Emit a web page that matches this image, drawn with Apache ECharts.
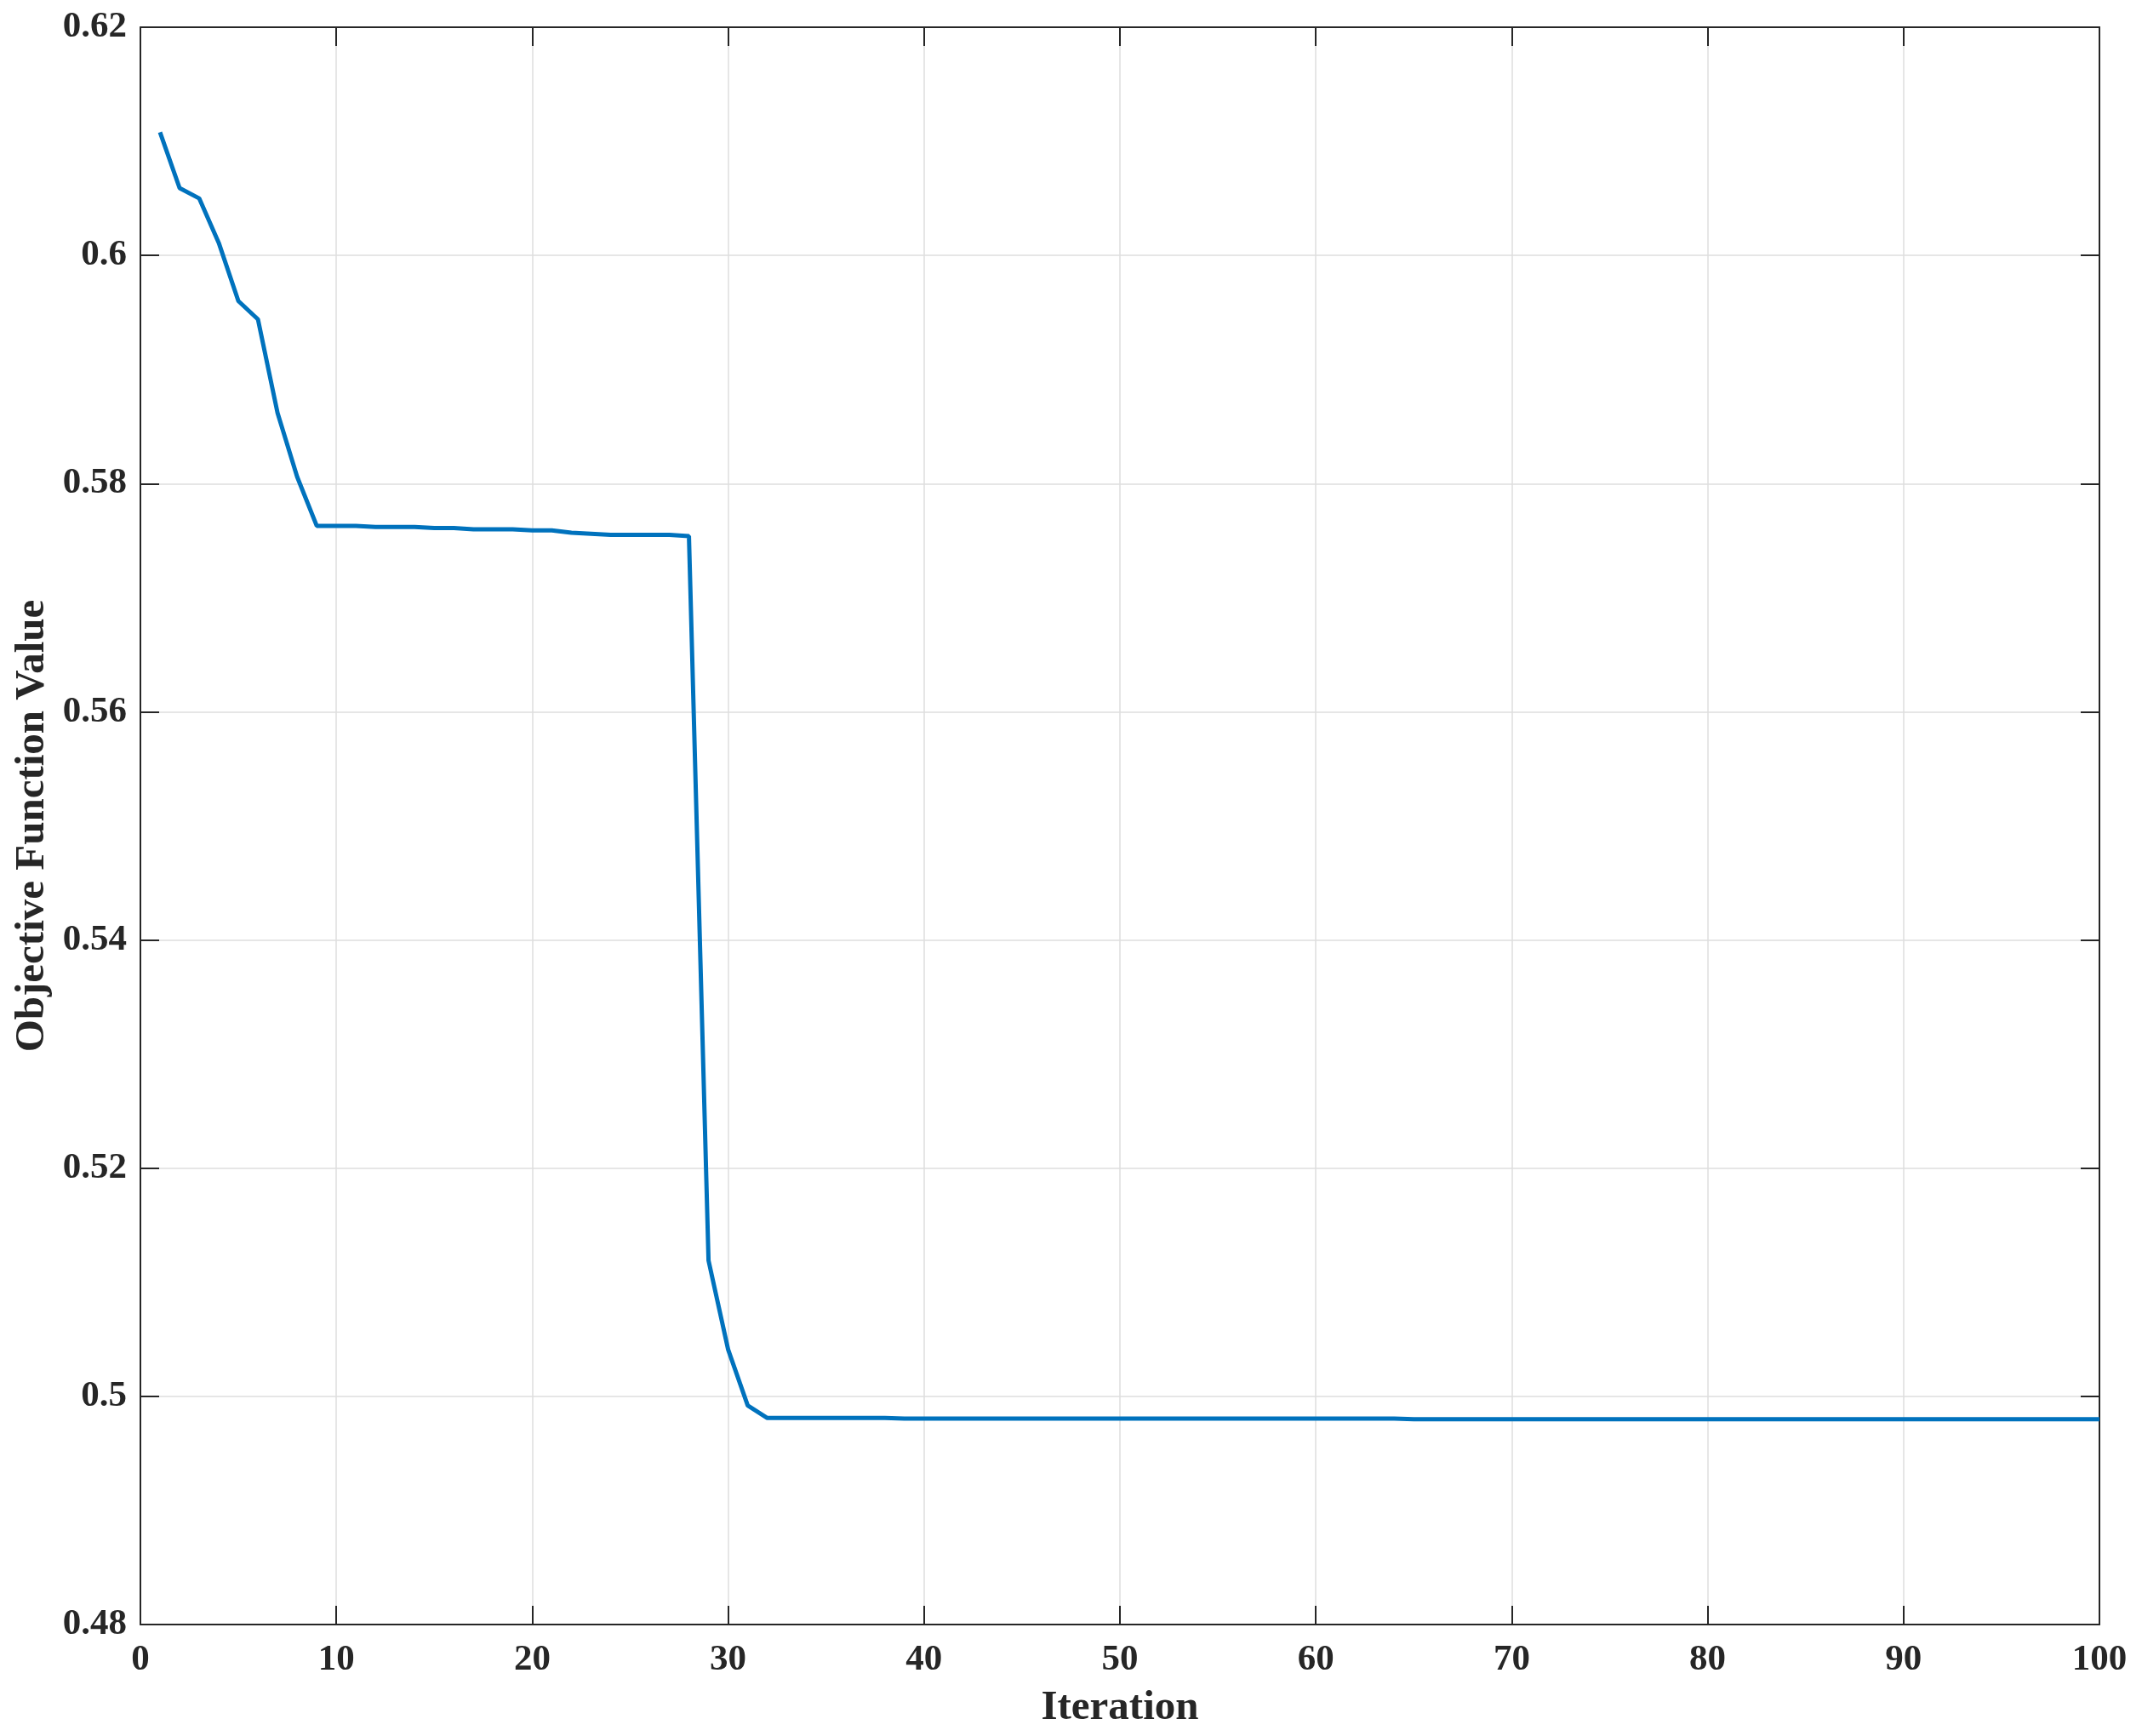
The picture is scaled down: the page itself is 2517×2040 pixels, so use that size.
<!DOCTYPE html>
<html>
<head>
<meta charset="utf-8">
<script src="https://cdn.jsdelivr.net/npm/echarts@6/dist/echarts.min.js"></script>
<style>
html,body{margin:0;padding:0;background:#fff;}
#chart{width:2517px;height:2040px;}
</style>
</head>
<body>
<div id="chart"></div>
<script>
const iterations = [1,2,3,4,5,6,7,8,9,10,11,12,13,14,15,16,17,18,19,20,
  21,22,23,24,25,26,27,28,29,30,31,32,33,34,35,36,37,38,39,40,
  41,42,43,44,45,46,47,48,49,50,51,52,53,54,55,56,57,58,59,60,
  61,62,63,64,65,66,67,68,69,70,71,72,73,74,75,76,77,78,79,80,
  81,82,83,84,85,86,87,88,89,90,91,92,93,94,95,96,97,98,99,100];
const objectiveValues = [
  0.6108,0.6059,0.6050,0.6011,0.5960,0.5944,0.5862,0.5806,0.5763,0.5763,
  0.5763,0.5762,0.5762,0.5762,0.5761,0.5761,0.5760,0.5760,0.5760,0.5759,
  0.5759,0.5757,0.5756,0.5755,0.5755,0.5755,0.5755,0.5754,0.5119,0.5041,
  0.4992,0.4981,0.4981,0.4981,0.4981,0.4981,0.4981,0.4981,0.49805,0.49805,
  0.49805,0.49805,0.49805,0.49805,0.49805,0.49805,0.49805,0.49805,0.49805,0.49805,
  0.49805,0.49805,0.49805,0.49805,0.49805,0.49805,0.49805,0.49805,0.49805,0.49805,
  0.49805,0.49805,0.49805,0.49805,0.4980,0.4980,0.4980,0.4980,0.4980,0.4980,
  0.4980,0.4980,0.4980,0.4980,0.4980,0.4980,0.4980,0.4980,0.4980,0.4980,
  0.4980,0.4980,0.4980,0.4980,0.4980,0.4980,0.4980,0.4980,0.4980,0.4980,
  0.4980,0.4980,0.4980,0.4980,0.4980,0.4980,0.4980,0.4980,0.4980,0.4980];
const xTitle = 'Iteration';
const yTitle = 'Objective Function Value';

const FONT = '"Liberation Serif", "Times New Roman", serif';
const AXIS_COLOR = '#262626';
const chart = echarts.init(document.getElementById('chart'));
const pts = iterations.map((x, i) => [x, objectiveValues[i]]);
const tickStyle = {show: true, inside: true, length: 22, lineStyle: {color: AXIS_COLOR, width: 2}};
chart.setOption({
  animation: false,
  backgroundColor: '#ffffff',
  grid: {left: 165, right: 50, top: 32, bottom: 131, containLabel: false},
  xAxis: [{
    type: 'value', min: 0, max: 100, interval: 10,
    name: xTitle, nameLocation: 'middle', nameGap: 74,
    nameTextStyle: {fontFamily: FONT, fontWeight: 'bold', fontSize: 49, color: AXIS_COLOR},
    axisLine: {show: true, lineStyle: {color: AXIS_COLOR, width: 2}},
    axisTick: tickStyle,
    axisLabel: {fontFamily: FONT, fontWeight: 'bold', fontSize: 43, color: AXIS_COLOR, margin: 20},
    splitLine: {show: true, lineStyle: {color: '#dedede', width: 1.5}}
  }, {
    type: 'value', position: 'top', min: 0, max: 100, interval: 10,
    axisLine: {show: true, onZero: false, lineStyle: {color: AXIS_COLOR, width: 2}},
    axisTick: tickStyle, axisLabel: {show: false}, splitLine: {show: false}
  }],
  yAxis: [{
    type: 'value', min: 0.48, max: 0.62, interval: 0.02,
    name: yTitle, nameLocation: 'middle', nameGap: 100, nameRotate: 90,
    nameTextStyle: {fontFamily: FONT, fontWeight: 'bold', fontSize: 49, color: AXIS_COLOR},
    axisLine: {show: true, onZero: false, lineStyle: {color: AXIS_COLOR, width: 2}},
    axisTick: tickStyle,
    axisLabel: {fontFamily: FONT, fontWeight: 'bold', fontSize: 43, color: AXIS_COLOR, margin: 16,
      formatter: v => String(+v.toFixed(2))},
    splitLine: {show: true, lineStyle: {color: '#dedede', width: 1.5}}
  }, {
    type: 'value', position: 'right', min: 0.48, max: 0.62, interval: 0.02,
    axisLine: {show: true, onZero: false, lineStyle: {color: AXIS_COLOR, width: 2}},
    axisTick: tickStyle, axisLabel: {show: false}, splitLine: {show: false}
  }],
  series: [{
    type: 'line', data: pts, xAxisIndex: 0, yAxisIndex: 0,
    showSymbol: false, symbol: 'none',
    lineStyle: {color: '#0072BD', width: 5},
    itemStyle: {color: '#0072BD'}
  }]
});
</script>
</body>
</html>
